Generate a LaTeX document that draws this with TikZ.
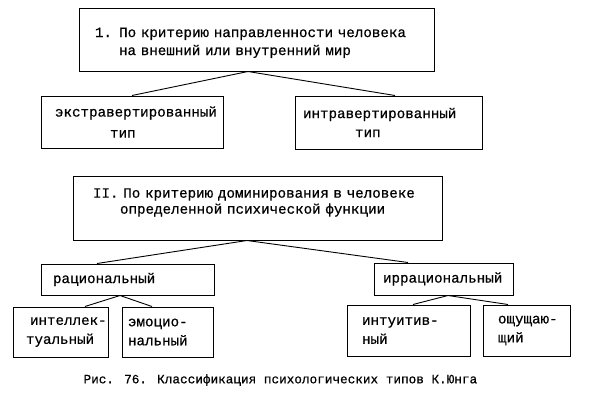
\documentclass[tikz,border=0pt]{standalone}
\usepackage{fontspec}
\setmainfont{Liberation Mono}[FakeBold=0.6]

\begin{document}
\begin{tikzpicture}[x=1pt, y=-1pt,
  box/.style={draw, line width=1pt, align=left, inner ysep=0pt, font=\fontsize{14.2}{19}\selectfont},
  link/.style={line width=0.9pt}]
  \useasboundingbox (0,0) rectangle (595,400);

  % Criterion I and its two types
  \node[box, minimum width=355, minimum height=63, text width=323] (crit1) at (256.5,39.5)
    {\rule{0pt}{16pt}1. По критерию направленности человека\\[-1pt]\hspace*{24pt}на внешний или внутренний мир};
  \node[box, minimum width=182, minimum height=52, text width=154] (extra) at (132,122)
    {экстравертированный\\[2pt]\hspace*{55pt}тип};
  \node[box, minimum width=187, minimum height=53, text width=171] (intra) at (388.5,122.5)
    {интравертированный\\[0pt]\hspace*{52pt}тип};
  \draw[link] ([xshift=-8.5pt]crit1.south) -- (extra.north);
  \draw[link] ([xshift=-8.5pt]crit1.south) -- ([xshift=6.5pt]intra.north);

  % Criterion II: dominating function
  \node[box, minimum width=369, minimum height=64, text width=329] (crit2) at (257.5,208)
    {II. По критерию доминирования в человеке\\[-3pt]\hspace*{27pt}определенной психической функции\rule[-14pt]{0pt}{14pt}};
  \node[box, minimum width=173, minimum height=31, text width=149] (rat) at (127.5,279.5)
    {рациональный};
  \node[box, minimum width=139, minimum height=32, text width=121] (irr) at (443.5,279)
    {иррациональный};
  \draw[link] ([xshift=-10.5pt]crit2.south) -- ([xshift=-30.5pt]rat.north);
  \draw[link] ([xshift=-10.5pt]crit2.south) -- ([xshift=-35.5pt]irr.north);

  % Functions under each group
  \node[box, minimum width=95, minimum height=50, text width=69] (intel) at (60.5,332)
    {\mbox{\hspace*{4pt}интеллек-}\\\mbox{туальный}};
  \node[box, minimum width=91, minimum height=50, text width=79] (emot) at (167.5,332)
    {\mbox{эмоцио-}\\нальный};
  \node[box, minimum width=123, minimum height=51, text width=93] (intuit) at (408.5,330.5)
    {\mbox{интуитив-}\\ный};
  \node[box, minimum width=87, minimum height=51, text width=57] (sens) at (526.5,330.5)
    {\mbox{ощущаю-}\\щий};
  \draw[link] ([xshift=-7.5pt]rat.south) -- ([xshift=24.5pt]intel.north);
  \draw[link] ([xshift=-7.5pt]rat.south) -- ([xshift=-15.5pt]emot.north);
  \draw[link] ([xshift=4.5pt]irr.south) -- ([xshift=4.5pt]intuit.north);
  \draw[link] ([xshift=4.5pt]irr.south) -- ([xshift=-18.5pt]sens.north);

  % Caption
  \node[font=\fontsize{12.7}{15}\selectfont, anchor=west] (caption) at (80,380)
    {Рис. 76. Классификация психологических типов К.Юнга};
\end{tikzpicture}
\end{document}
